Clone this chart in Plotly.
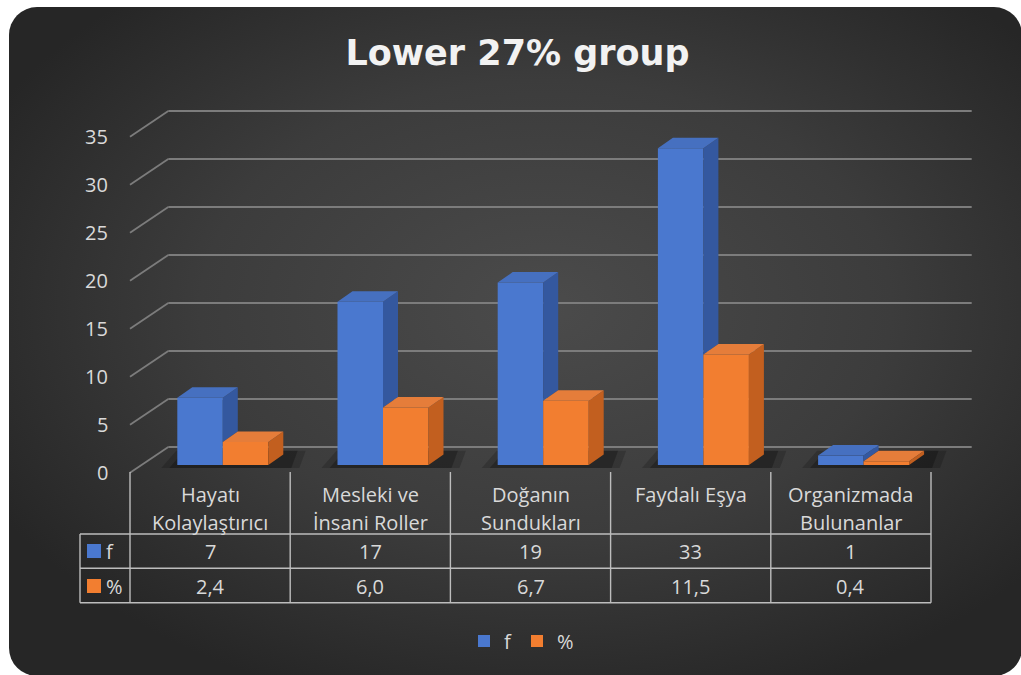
import base64
import plotly.graph_objects as go

# ---------------- data ----------------
categories = ["Hayatı Kolaylaştırıcı", "Mesleki ve İnsani Roller", "Doğanın Sundukları",
              "Faydalı Eşya", "Organizmada Bulunanlar"]
category_lines = [["Hayatı", "Kolaylaştırıcı"], ["Mesleki ve", "İnsani Roller"],
                  ["Doğanın", "Sundukları"], ["Faydalı Eşya"], ["Organizmada", "Bulunanlar"]]
f_values = [7, 17, 19, 33, 1]
pct_values = [2.4, 6.0, 6.7, 11.5, 0.4]
series_names = ["f", "%"]
y_ticks = [0, 5, 10, 15, 20, 25, 30, 35]
title_text = "Lower 27% group"

# ---------------- geometry / style ----------------
W, H = 1021, 675
PXX = 160.2      # px per category
X0 = 210.1       # px centre of category 0 (front plane)
PXV = 9.6        # px per value unit
BASE = 465.0     # px of value 0 in the bar plane

def xu(px):
    return (px - X0) / PXX

def vu(py):
    return (BASE - py) / PXV

def pxp(px):
    return px / W

def pyp(py):
    return 1 - py / H

BAR_W = 45.5 / PXX
BAR_OFF = [-32.8 / PXX, -32.8 / PXX + BAR_W]
DX = 15.0 / PXX          # bar depth (x)
DY = 10.5 / PXV          # bar depth (y)
BACK_DY = 18.0 / PXV     # back wall offset above bar plane
FRONT_DY = -7.7 / PXV    # front plane offset below bar plane
BACK_X0 = xu(168.3)
BACK_X1 = xu(971.7)
FRONT_X0 = xu(130)

FONT = "Open Sans"
TXT = "#d9d9d9"
TSIZE = 20
colors = {
    "f": {"front": "#4a78cf", "top": "#4670c0", "side": "#34589f"},
    "%": {"front": "#f27e30", "top": "#e57d3a", "side": "#c25f1f"},
}
GRID = "#7c7c7c"
TABLE_LINE = "#bdbdbd"

series_values = [f_values, pct_values]
n = len(categories)

fig = go.Figure()

# front faces as bars
for s, (name, vals) in enumerate(zip(series_names, series_values)):
    fig.add_trace(go.Bar(
        x=list(range(n)), y=vals, base=0, width=BAR_W, offset=BAR_OFF[s],
        name=name, marker=dict(color=colors[name]["front"], line=dict(width=0)),
        hoverinfo="skip", showlegend=True))

# side and top faces
for s, (name, vals) in enumerate(zip(series_names, series_values)):
    tx, ty, sx, sy = [], [], [], []
    for i, v in enumerate(vals):
        L = i + BAR_OFF[s]
        R = L + BAR_W
        tx += [L, R, R + DX, L + DX, L, None]
        ty += [v, v, v + DY, v + DY, v, None]
        # part of the side face not hidden by the next series' bar
        if s + 1 < len(series_values):
            b = min(series_values[s + 1][i], v)
        else:
            b = 0
        sx += [R, R, R + DX, R + DX, R, None]
        sy += [b, v, v + DY, b + DY, b, None]
    fig.add_trace(go.Scatter(x=sx, y=sy, fill="toself", mode="lines", line=dict(width=0),
                             fillcolor=colors[name]["side"], hoverinfo="skip", showlegend=False))
    fig.add_trace(go.Scatter(x=tx, y=ty, fill="toself", mode="lines", line=dict(width=0),
                             fillcolor=colors[name]["top"], hoverinfo="skip", showlegend=False))

shapes = []
# back-wall gridlines and floor diagonals
for t in y_ticks:
    shapes.append(dict(type="line", xref="x", yref="y", x0=BACK_X0, x1=BACK_X1,
                       y0=t + BACK_DY, y1=t + BACK_DY, line=dict(color=GRID, width=1.8), layer="below"))
    shapes.append(dict(type="line", xref="x", yref="y", x0=FRONT_X0, x1=BACK_X0,
                       y0=t + FRONT_DY, y1=t + BACK_DY, line=dict(color=GRID, width=1.8), layer="below"))

# soft floor shadows behind the bars
for i in range(n):
    L = i + BAR_OFF[0]
    R = i + BAR_OFF[1] + BAR_W
    for grow, op in [(0.10, 0.18), (0.05, 0.25)]:
        path = (f"M{L - grow},{-0.3} L{R + DX + grow},{-0.3} "
                f"L{R + DX + grow + 0.04},{DY + 0.4} L{L + DX - grow},{DY + 0.4} Z")
        shapes.append(dict(type="path", xref="x", yref="y", path=path,
                           fillcolor=f"rgba(0,0,0,{op})", line=dict(width=0), layer="below"))

# data table grid
col_edges = [130 + k * PXX for k in range(n + 1)]
row_lines = [534, 568.3, 602.7]
for k, cx in enumerate(col_edges):
    shapes.append(dict(type="line", xref="paper", yref="paper", x0=pxp(cx), x1=pxp(cx),
                       y0=pyp(472), y1=pyp(602.7), line=dict(color=TABLE_LINE, width=1.4)))
shapes.append(dict(type="line", xref="paper", yref="paper", x0=pxp(80), x1=pxp(80),
                   y0=pyp(534), y1=pyp(602.7), line=dict(color=TABLE_LINE, width=1.4)))
for ry in row_lines:
    shapes.append(dict(type="line", xref="paper", yref="paper", x0=pxp(80), x1=pxp(col_edges[-1]),
                       y0=pyp(ry), y1=pyp(ry), line=dict(color=TABLE_LINE, width=1.4)))
# legend keys inside the table
for s, name in enumerate(series_names):
    cy = 551 if s == 0 else 586
    shapes.append(dict(type="rect", xref="paper", yref="paper", x0=pxp(87), x1=pxp(101),
                       y0=pyp(cy - 7), y1=pyp(cy + 7), fillcolor=colors[name]["front"],
                       line=dict(width=0)))

annotations = []
# y tick labels on the front plane
for t in y_ticks:
    annotations.append(dict(x=xu(110), y=t + FRONT_DY, xref="x", yref="y", text=str(t),
                            showarrow=False, xanchor="right", yanchor="middle",
                            font=dict(family=FONT, size=20, color=TXT)))
# table text
for i, lines in enumerate(category_lines):
    for j, ln in enumerate(lines):
        annotations.append(dict(x=pxp(col_edges[i] + PXX / 2), y=pyp(495 + 27 * j),
                                xref="paper", yref="paper", text=ln, showarrow=False,
                                xanchor="center", yanchor="middle",
                                font=dict(family=FONT, size=TSIZE, color=TXT)))
    annotations.append(dict(x=pxp(col_edges[i] + PXX / 2), y=pyp(551), xref="paper", yref="paper",
                            text=str(f_values[i]), showarrow=False, xanchor="center",
                            yanchor="middle", font=dict(family=FONT, size=TSIZE, color=TXT)))
    annotations.append(dict(x=pxp(col_edges[i] + PXX / 2), y=pyp(586), xref="paper", yref="paper",
                            text=f"{pct_values[i]:.1f}".replace(".", ","), showarrow=False,
                            xanchor="center", yanchor="middle",
                            font=dict(family=FONT, size=TSIZE, color=TXT)))
for s, name in enumerate(series_names):
    cy = 551 if s == 0 else 586
    annotations.append(dict(x=pxp(104), y=pyp(cy), xref="paper", yref="paper", text=name,
                            showarrow=False, xanchor="left", yanchor="middle",
                            font=dict(family=FONT, size=TSIZE, color=TXT)))

# background panel with radial gradient
svg = f"""<svg xmlns="http://www.w3.org/2000/svg" width="{W}" height="{H}" viewBox="0 0 {W} {H}">
<defs><radialGradient id="g" cx="0.53" cy="0.45" r="0.62">
<stop offset="0" stop-color="#4b4b4b"/><stop offset="0.55" stop-color="#3c3c3c"/>
<stop offset="1" stop-color="#262626"/></radialGradient></defs>
<rect x="9" y="7" width="1013" height="669" rx="28" ry="28" fill="url(#g)"/></svg>"""
src = "data:image/svg+xml;base64," + base64.b64encode(svg.encode()).decode()

fig.update_layout(
    width=W, height=H, autosize=False,
    margin=dict(l=0, r=0, t=0, b=0, pad=0),
    paper_bgcolor="white", plot_bgcolor="rgba(0,0,0,0)",
    barmode="overlay",
    images=[dict(source=src, xref="paper", yref="paper", x=0, y=1, sizex=1, sizey=1,
                 xanchor="left", yanchor="top", sizing="stretch", layer="below")],
    xaxis=dict(range=[xu(0), xu(W)], domain=[0, 1], visible=False, fixedrange=True),
    yaxis=dict(range=[vu(H), vu(0)], domain=[0, 1], visible=False, fixedrange=True),
    title=dict(text=f"<b>{title_text}</b>", x=pxp(517.5), xanchor="center", y=pyp(53),
               yanchor="middle", font=dict(family="DejaVu Sans", size=35, color="#f2f2f2")),
    legend=dict(orientation="h", x=pxp(464), xanchor="left", y=pyp(641), yanchor="middle",
                font=dict(family=FONT, size=TSIZE, color=TXT), bgcolor="rgba(0,0,0,0)",
                itemwidth=30),
    shapes=shapes, annotations=annotations,
)

fig.write_html("out.html")
